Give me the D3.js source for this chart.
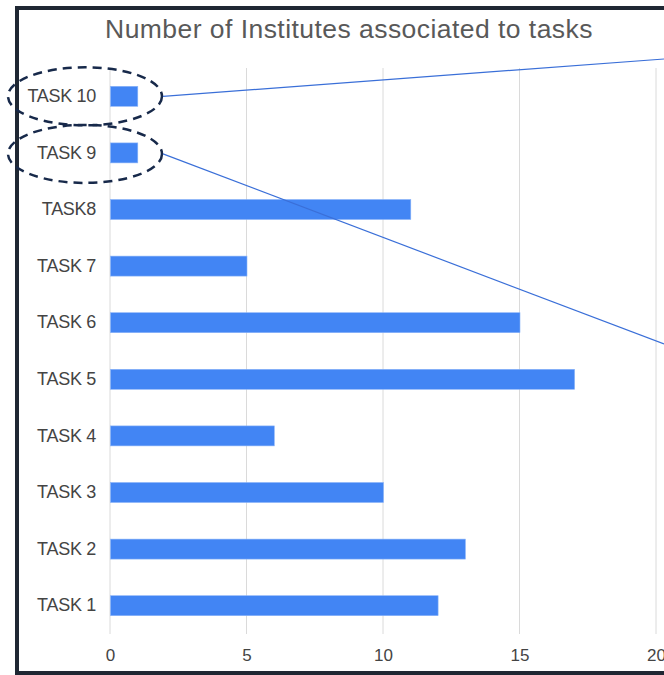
<!DOCTYPE html>
<html>
<head>
<meta charset="utf-8">
<script src="https://cdn.jsdelivr.net/npm/d3@7"></script>
<style>
  html, body { margin: 0; padding: 0; background: #fff; overflow: hidden; }
  svg { display: block; font-family: "Liberation Sans", Arial, sans-serif; }
</style>
</head>
<body>
<div id="chart"></div>
<script>
// data
var tasks = ['TASK 10', 'TASK 9', 'TASK8', 'TASK 7', 'TASK 6', 'TASK 5', 'TASK 4', 'TASK 3', 'TASK 2', 'TASK 1'];
var counts = [1, 1, 11, 5, 15, 17, 6, 10, 13, 12];
var xTicks = [0, 5, 10, 15, 20];
var highlighted = ['TASK 10', 'TASK 9'];

var W = 664, H = 675;
var plot = { left: 110, right: 656, top: 68, bottom: 634 };
var fontFamily = '"Liberation Sans", Arial, sans-serif';

var svg = d3.select('#chart').append('svg')
  .attr('width', W).attr('height', H);

// frame
svg.append('rect')
  .attr('x', 17).attr('y', 8)
  .attr('width', 700).attr('height', 665)
  .attr('fill', '#fff')
  .attr('stroke', '#1f2733')
  .attr('stroke-width', 4);

// title
svg.append('text')
  .attr('x', 349).attr('y', 38)
  .attr('text-anchor', 'middle')
  .attr('fill', '#595959')
  .style('font-size', '26.5px')
  .style('letter-spacing', '0.45px')
  .text('Number of Institutes associated to tasks');

var x = d3.scaleLinear().domain([0, 20]).range([plot.left, plot.right]);
var y = d3.scaleBand().domain(tasks).range([plot.top, plot.bottom]).paddingInner(0.647).paddingOuter(0.3235);

// gridlines
svg.append('g').selectAll('line')
  .data(xTicks)
  .join('line')
  .attr('x1', function(d) { return x(d); })
  .attr('x2', function(d) { return x(d); })
  .attr('y1', plot.top).attr('y2', plot.bottom)
  .attr('stroke', '#dadada')
  .attr('stroke-width', 1);

// x axis labels (the 20 is cut by the right edge, as in the original)
var xAxis = svg.append('g')
  .attr('transform', 'translate(0,' + (plot.bottom + 27) + ')')
  .call(d3.axisBottom(x).tickValues(xTicks).tickSize(0).tickPadding(0));
xAxis.select('.domain').remove();
xAxis.selectAll('text')
  .attr('fill', '#444')
  .attr('dy', 0)
  .style('font-size', '17px')
  .style('font-family', fontFamily);

// y axis labels
var yAxis = svg.append('g')
  .attr('transform', 'translate(' + (plot.left - 14) + ',0)')
  .call(d3.axisLeft(y).tickSize(0).tickPadding(0));
yAxis.select('.domain').remove();
yAxis.selectAll('text')
  .attr('fill', '#444')
  .style('font-size', '18px')
  .style('letter-spacing', '-0.3px')
  .style('font-family', fontFamily);

// bars
svg.append('g').selectAll('rect')
  .data(tasks)
  .join('rect')
  .attr('x', x(0) + 0.5)
  .attr('y', function(d) { return y(d); })
  .attr('width', function(d, i) { return x(counts[i]) - x(0); })
  .attr('height', y.bandwidth())
  .attr('fill', '#4285f4')
  .attr('stroke', '#8ab4f8')
  .attr('stroke-width', 0.6);

// highlight ellipses and leader lines
var ellipseCx = 85, ellipseRx = 77, ellipseRy = 29;
var leaderEnds = [59, 344];
highlighted.forEach(function(t, i) {
  var cy = y(t) + y.bandwidth() / 2 - (i === 1 ? -1 : 0);
  svg.append('ellipse')
    .attr('cx', ellipseCx).attr('cy', cy)
    .attr('rx', ellipseRx).attr('ry', ellipseRy)
    .attr('fill', 'none')
    .attr('stroke', '#17294a')
    .attr('stroke-width', 2.5)
    .attr('stroke-dasharray', '9,6');
  svg.append('line')
    .attr('x1', ellipseCx + ellipseRx + 1).attr('y1', cy)
    .attr('x2', W).attr('y2', leaderEnds[i])
    .attr('stroke', '#3a6fd8')
    .attr('stroke-width', 1.2);
});
</script>
</body>
</html>
